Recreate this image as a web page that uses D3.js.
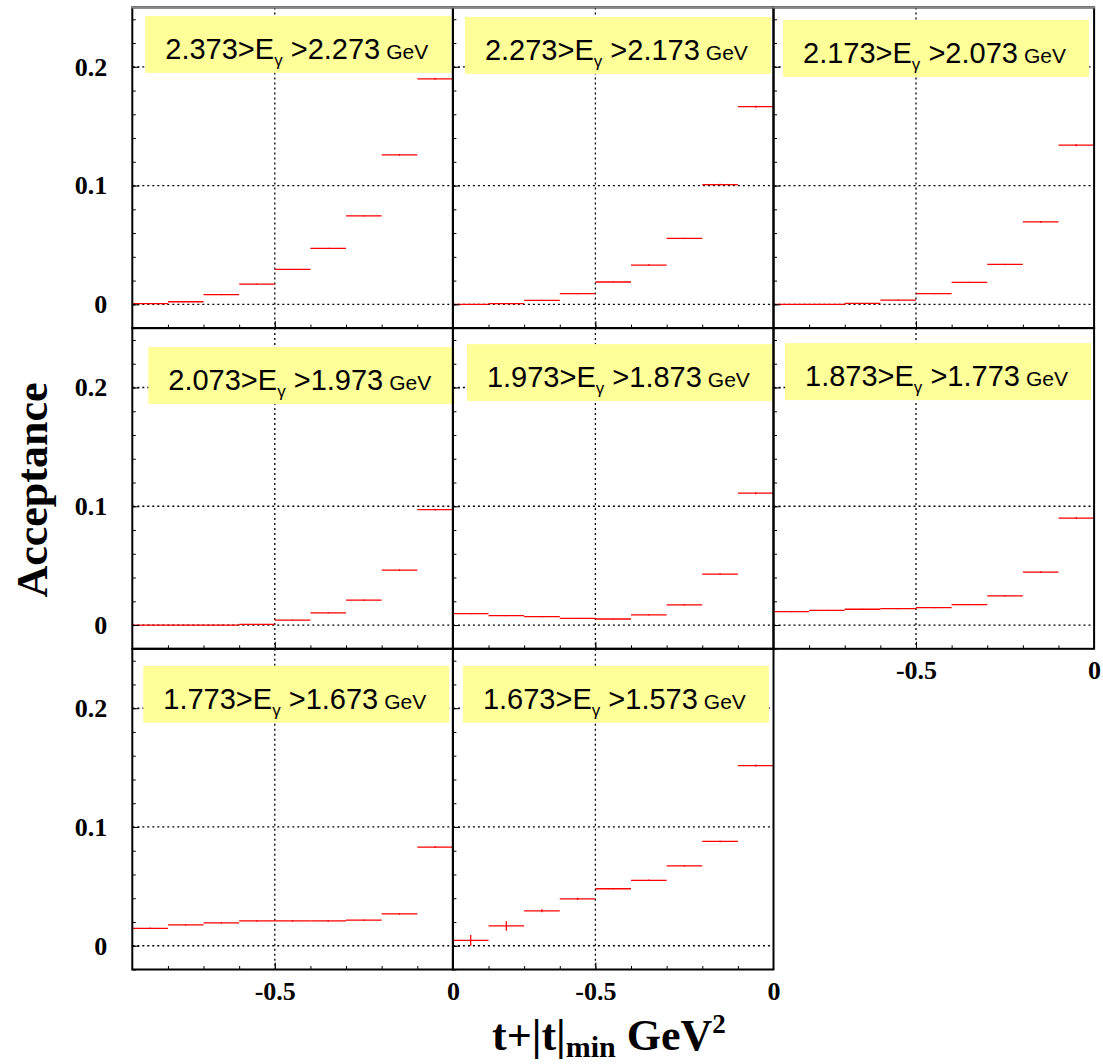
<!DOCTYPE html>
<html>
<head>
<meta charset="utf-8">
<script src="https://cdn.jsdelivr.net/npm/d3@7"></script>
<style>
  body { margin: 0; background: #fff; }
  svg { display: block; }
</style>
</head>
<body>
<div id="chart"></div>
<script>
// bin edges in t+|t|min (GeV^2)
const tEdges = [-0.9, -0.8, -0.7, -0.6, -0.5, -0.4, -0.3, -0.2, -0.1, 0];

// photon energy bins (label text)
const eHigh = ['2.373', '2.273', '2.173', '2.073', '1.973', '1.873', '1.773', '1.673'];
const eLow  = ['2.273', '2.173', '2.073', '1.973', '1.873', '1.773', '1.673', '1.573'];

// acceptance per t bin, one array per E bin
const acc1 = [0.0006, 0.0022, 0.0081, 0.0171, 0.0294, 0.0471, 0.0745, 0.1258, 0.1899];
const acc2 = [0.0000, 0.0006, 0.0034, 0.0090, 0.0188, 0.0331, 0.0555, 0.1008, 0.1664];
const acc3 = [0.0000, 0.0000, 0.0008, 0.0036, 0.0090, 0.0185, 0.0336, 0.0695, 0.1340];
const acc4 = [0.0000, 0.0000, 0.0000, 0.0006, 0.0042, 0.0102, 0.0209, 0.0463, 0.0972];
const acc5 = [0.0096, 0.0079, 0.0071, 0.0056, 0.0051, 0.0085, 0.0169, 0.0429, 0.1110];
const acc6 = [0.0113, 0.0124, 0.0133, 0.0138, 0.0147, 0.0172, 0.0246, 0.0446, 0.0901];
const acc7 = [0.0147, 0.0175, 0.0192, 0.0209, 0.0209, 0.0209, 0.0215, 0.0268, 0.0831];
const acc8 = [0.0045, 0.0167, 0.0294, 0.0395, 0.0480, 0.0551, 0.0672, 0.0879, 0.1517];

// statistical errors
const err1 = [0.0002, 0.0003, 0.0004, 0.0005, 0.0005, 0.0006, 0.0006, 0.0007, 0.0008];
const err2 = [0.0002, 0.0003, 0.0004, 0.0005, 0.0005, 0.0006, 0.0006, 0.0007, 0.0008];
const err3 = [0.0002, 0.0002, 0.0003, 0.0004, 0.0005, 0.0005, 0.0006, 0.0007, 0.0008];
const err4 = [0.0002, 0.0002, 0.0002, 0.0003, 0.0004, 0.0005, 0.0006, 0.0007, 0.0008];
const err5 = [0.0005, 0.0005, 0.0005, 0.0004, 0.0004, 0.0005, 0.0006, 0.0007, 0.0008];
const err6 = [0.0005, 0.0005, 0.0005, 0.0005, 0.0005, 0.0005, 0.0006, 0.0007, 0.0008];
const err7 = [0.0006, 0.0006, 0.0006, 0.0006, 0.0006, 0.0006, 0.0006, 0.0007, 0.0008];
const err8 = [0.0045, 0.0040, 0.0013, 0.0010, 0.0006, 0.0006, 0.0006, 0.0007, 0.0008];

const yTickValues = [0, 0.1, 0.2];
const yTickLabels = ['0', '0.1', '0.2'];
const xTickValues = [-0.5, 0];
const xTickLabels = ['-0.5', '0'];

const accList = [acc1, acc2, acc3, acc4, acc5, acc6, acc7, acc8];
const errList = [err1, err2, err3, err4, err5, err6, err7, err8];

// label box offset inside each pad (layout only)
const boxOff = [[13, 8.5], [12, 9.5], [9.5, 12.5], [16, 19], [14, 16], [11.5, 15], [11, 17], [10, 17]];

let width = 1103, height = 1064;
let x0 = 132.3, y0 = 7.4, pw = 320.6, ph = 320.7;

let svg = d3.select('#chart').append('svg').attr('width', width).attr('height', height);
svg.append('rect').attr('width', width).attr('height', height).attr('fill', '#fff');

let x = d3.scaleLinear().domain([-0.9, 0]).range([0, pw]);
let y = d3.scaleLinear().domain([-0.02, 0.25]).range([ph, 0]);

const serif = "'Liberation Serif', 'Times New Roman', serif";
const sans = "'Liberation Sans', Arial, Helvetica, sans-serif";

for (let i = 0; i < 8; i++) {
  let col = i % 3, row = Math.floor(i / 3);
  let g = svg.append('g').attr('transform', 'translate(' + (x0 + col * pw) + ',' + (y0 + row * ph) + ')');

  // dotted grid
  yTickValues.forEach(function (v) {
    g.append('line').attr('x1', 0).attr('x2', pw).attr('y1', y(v)).attr('y2', y(v))
      .attr('stroke', '#000').attr('stroke-width', 1.3).attr('stroke-dasharray', '2,3');
  });
  g.append('line').attr('x1', x(-0.5)).attr('x2', x(-0.5)).attr('y1', 0).attr('y2', ph)
    .attr('stroke', '#000').attr('stroke-width', 1.3).attr('stroke-dasharray', '2,3');

  // label box
  let bx = boxOff[i][0], by = boxOff[i][1];
  g.append('rect').attr('x', bx).attr('y', by).attr('width', 306).attr('height', 57)
    .attr('fill', '#ffff99');
  let t = g.append('text').attr('x', bx + 20).attr('y', by + 43)
    .style('font-family', sans).style('font-size', '29px').attr('fill', '#000');
  t.append('tspan').text(eHigh[i] + '>E');
  t.append('tspan').attr('dy', 7).style('font-size', '17px').text('\u03b3');
  t.append('tspan').attr('dy', -7).text(' >' + eLow[i]);
  t.append('tspan').attr('dx', 6).style('font-size', '21px').text('GeV');

  // histogram steps with error bars
  let acc = accList[i], err = errList[i];
  let bins = acc.map(function (v, k) { return { lo: tEdges[k], hi: tEdges[k + 1], v: v, e: err[k] }; });
  g.selectAll('line.bin').data(bins).enter().append('line').attr('class', 'bin')
    .attr('x1', function (d) { return x(d.lo); })
    .attr('x2', function (d) { return x(d.hi); })
    .attr('y1', function (d) { return y(d.v); })
    .attr('y2', function (d) { return y(d.v); })
    .attr('stroke', 'red').attr('stroke-width', 1.3);
  g.selectAll('line.err').data(bins).enter().append('line').attr('class', 'err')
    .attr('x1', function (d) { return x((d.lo + d.hi) / 2); })
    .attr('x2', function (d) { return x((d.lo + d.hi) / 2); })
    .attr('y1', function (d) { return y(d.v - d.e); })
    .attr('y2', function (d) { return y(d.v + d.e); })
    .attr('stroke', 'red').attr('stroke-width', 1.3);

  // inner ticks
  let yMinor = d3.axisLeft(y).tickValues(d3.range(-0.02, 0.2501, 0.02)).tickSize(-3.5).tickFormat('');
  let yMajor = d3.axisLeft(y).tickValues(yTickValues).tickSize(-7).tickFormat('');
  let xMinor = d3.axisBottom(x).tickValues(d3.range(-0.8, -0.05, 0.1)).tickSize(-3.5).tickFormat('');
  let xMajor = d3.axisBottom(x).tickValues([-0.5]).tickSize(-7).tickFormat('');
  [yMinor, yMajor].forEach(function (a) {
    let ag = g.append('g').call(a);
    ag.select('.domain').remove();
    ag.selectAll('line').attr('stroke', '#000').attr('stroke-width', 1);
  });
  [xMinor, xMajor].forEach(function (a) {
    let ag = g.append('g').attr('transform', 'translate(0,' + ph + ')').call(a);
    ag.select('.domain').remove();
    ag.selectAll('line').attr('stroke', '#000').attr('stroke-width', 1);
  });

  // frame
  g.append('rect').attr('width', pw).attr('height', ph).attr('fill', 'none')
    .attr('stroke', '#000').attr('stroke-width', 2);
  if (row === 0) {
    g.append('line').attr('x1', -1).attr('x2', pw + 1).attr('y1', 0).attr('y2', 0)
      .attr('stroke', '#888').attr('stroke-width', 2);
  }

  // tick labels
  if (col === 0) {
    let yl = g.append('g').call(d3.axisLeft(y).tickValues(yTickValues).tickSize(0).tickPadding(25)
      .tickFormat(function (d, k) { return yTickLabels[k]; }));
    yl.select('.domain').remove();
    yl.selectAll('text').style('font-family', serif).style('font-size', '26px')
      .style('font-weight', 'bold').attr('fill', '#000');
  }
  if (row === 2 || i === 5) {
    let xl = g.append('g').attr('transform', 'translate(0,' + ph + ')')
      .call(d3.axisBottom(x).tickValues(xTickValues).tickSize(0).tickPadding(12)
      .tickFormat(function (d, k) { return xTickLabels[k]; }));
    xl.select('.domain').remove();
    xl.selectAll('text').style('font-family', serif).style('font-size', '26px')
      .style('font-weight', 'bold').attr('fill', '#000');
  }
}

// axis titles
svg.append('text').attr('transform', 'translate(47,490) rotate(-90)')
  .attr('text-anchor', 'middle').style('font-family', serif).style('font-size', '44px')
  .style('font-weight', 'bold').text('Acceptance');

let xt = svg.append('text').attr('x', 492).attr('y', 1050)
  .style('font-family', serif).style('font-size', '44px').style('font-weight', 'bold');
xt.append('tspan').text('t+|t|');
xt.append('tspan').attr('dy', 7).style('font-size', '30px').text('min');
xt.append('tspan').attr('dy', -7).text(' GeV');
xt.append('tspan').attr('dy', -17).style('font-size', '27px').text('2');
</script>
</body>
</html>
